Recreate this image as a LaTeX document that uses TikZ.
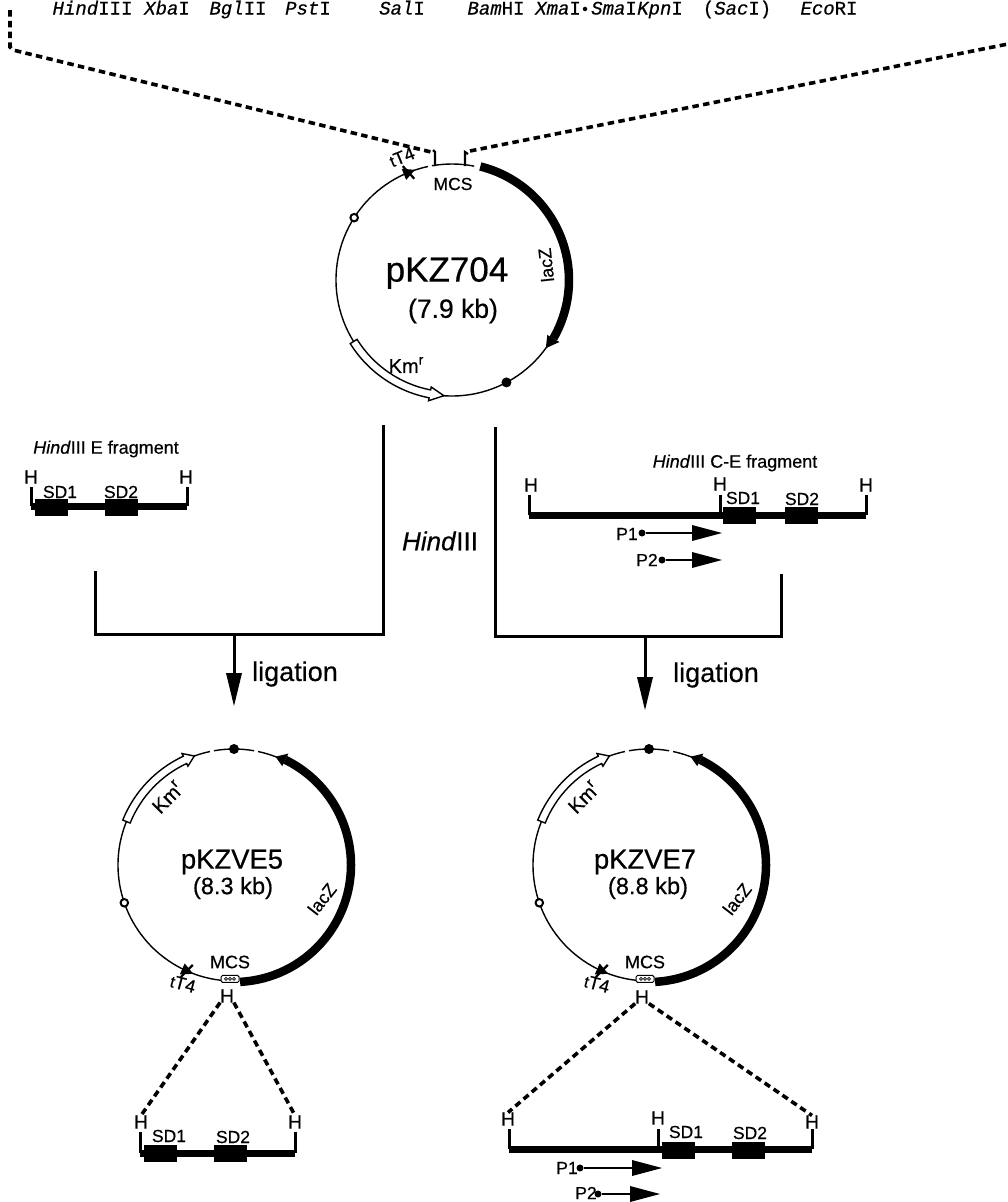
\documentclass[tikz,border=0pt]{standalone}
\usetikzlibrary{calc}
\usepackage{fontspec}
\setmainfont{Liberation Sans}[RawFeature={embolden=0.5}]
\newfontfamily\cour{Liberation Mono}[RawFeature={embolden=0.5}]
\newcommand\fs[1]{\fontsize{#1}{#1}\selectfont}
\newcommand\kmtext{Km\raisebox{0.42em}{\fs{14}r}}
\newcommand\ringarc[2]{\draw[ring] (#1:116) arc[start angle=#1,end angle=#2,radius=116];}
% lacZ: start, body end, tip
\newcommand\lacarc[3]{\draw[lacbody] (#1:117) arc[start angle=#1,end angle=#2,radius=117];
  \fill (#2:124) -- (#3:116) -- (#2:110) -- cycle;}
% Km: start, shoulder, tip
\newcommand\kmarc[3]{\draw[kmbody] (#1:120) arc[start angle=#1,end angle=#2,radius=120] -- (#2:123) -- (#3:116) -- (#2:109) -- (#2:112) arc[start angle=#2,end angle=#1,radius=112] -- cycle;}
% terminator at angle, pointing sense (+/-1)
\newcommand\termin[2]{\begin{scope}[rotate=#1,shift={(116,0)}]
  \fill (-6,#2*5) -- (6,#2*5) -- (0,#2*-7) -- cycle;
  \draw[line width=2.2] (-8,#2*-3) -- (8,#2*3);
  \end{scope}}
\tikzset{
  ring/.style={line width=1.4},
  lacbody/.style={line width=8.5},
  kmbody/.style={line width=1.4,fill=white,line join=miter},
  openmark/.style={circle,draw,line width=2,fill=white,inner sep=0,minimum size=7.5},
  solidmark/.style={circle,fill=black,inner sep=0,minimum size=10},
  txt/.style={inner sep=0,outer sep=0,align=center},
  site/.style={inner sep=0,outer sep=0,anchor=base,font=\cour\fs{19}},
  lab/.style={txt,font=\fs{18}},
  sdlab/.style={txt,font=\fs{17.5}},
  hlab/.style={txt,font=\fs{19}},
  ligate/.style={txt,font=\fs{27}},
  bracket/.style={line width=3,line cap=butt,line join=miter},
  bigarrow/.style={line width=3},
  dna/.style={line width=7},
  tick/.style={line width=3},
  sdbox/.style={fill=black,inner sep=0,minimum width=33,minimum height=17},
  dashdna/.style={line width=3.6,dash pattern=on 6.5 off 4.3},
  pline/.style={line width=2.6},
  pdot/.style={circle,fill=black,inner sep=0,minimum size=7},
}
\begin{document}
\begin{tikzpicture}[x=1pt,y=1pt]
\useasboundingbox (0,0) rectangle (1008,-1202);
% ---- top sites
\foreach \n/\x/\t in {s1/92.5/\textit{Hind}III,s2/167/\textit{Xba}I,s3/238/\textit{Bgl}II,s4/308/\textit{Pst}I,s5/402/\textit{Sal}I,s6/496/\textit{Bam}HI,s7/558/\textit{Xma}I,s8/614/\textit{Sma}I,s9/660/\textit{Kpn}I,s10/737/(\textit{Sac}I),s11/829/\textit{Eco}RI}
  \node[site] (\n) at (\x,-14.5) {\t};
\node[circle,fill=black,inner sep=0,minimum size=4.5] (sdot) at (585,-9) {};
% ---- dashed insert lines
\coordinate (tl) at (10,-10);
\coordinate (tlc) at (10,-47);
\coordinate (tlend) at (431,-152);
\coordinate (trend) at (470,-151);
\coordinate (tr) at (1008,-44);
\coordinate (mcsL) at (435,-166);
\coordinate (mcsLt) at (435,-152);
\coordinate (mcsR) at (465,-166);
\coordinate (mcsRt) at (465,-152);
\draw[dashdna] (tl) -- (tlc) -- ++(3,-3) -- (tlend);
\draw[dashdna] (trend) -- (tr);
\draw[line width=2.2] (mcsL) -- (mcsLt) -- ++(-2,2);
\draw[line width=2.2] (mcsR) -- (mcsRt) -- ++(3,-2);
% ---- pKZ704
\begin{scope}[shift={(452,-280)}]
  \ringarc{79}{100}\ringarc{102}{420}
  \lacarc{76}{-30}{-36}
  \kmarc{212}{259}{266}
  \termin{112}{1}
  \node[openmark] (o704) at (147.5:116) {};
  \node[solidmark] (f704) at (-62:116) {};
\end{scope}
\node[txt,font=\fs{35}] (n704) at (447,-273) {pKZ704};
\node[txt,font=\fs{26.5}] (k704) at (453,-311) {(7.9 kb)};
\node[lab,font=\fs{17.5}] (mcs704) at (453,-184) {MCS};
\node[lab,rotate=96] (lac704) at (546,-265) {lacZ};
\node[txt,font=\fs{20}] (km704) at (406,-365) {\kmtext};
\node[lab,rotate=22] (t704) at (402,-157) {{\fs{16}t}T4};
% ---- left fragment
\node[lab] (eLab) at (106,-449) {\textit{Hind}III E fragment};
\coordinate (e1) at (31,-506); \coordinate (e1t) at (31,-487);
\coordinate (e2) at (187,-506); \coordinate (e2t) at (187,-487);
\draw[dna,line cap=square] (e1) -- (e2);
\draw[tick] (e1) -- (e1t); \draw[tick] (e2) -- (e2t);
\node[sdbox] (e3) at (51.5,-507.5) {};
\node[sdbox] (e4) at (121.5,-507.5) {};
\node[hlab] (e5) at (31,-477) {H};
\node[hlab] (e6) at (186,-477) {H};
\node[sdlab] (e7) at (60,-492) {SD1};
\node[sdlab] (e8) at (121,-492) {SD2};
% ---- right fragment
\node[lab] (ceLab) at (735,-463) {\textit{Hind}III C-E fragment};
\coordinate (c1) at (529,-515); \coordinate (c1t) at (529,-495);
\coordinate (c2) at (720,-515); \coordinate (c2t) at (720,-495);
\coordinate (c3) at (866,-515); \coordinate (c3t) at (866,-495);
\draw[dna,line cap=square] (c1) -- (c3);
\draw[tick] (c1) -- (c1t); \draw[tick] (c2) -- (c2t); \draw[tick] (c3) -- (c3t);
\node[sdbox] (c4) at (739,-515.5) {};
\node[sdbox] (c5) at (801,-515.5) {};
\node[hlab] (c6) at (531,-485) {H};
\node[hlab] (c7) at (720,-484) {H};
\node[hlab] (c8) at (866,-485) {H};
\node[sdlab] (c9) at (743,-498) {SD1};
\node[sdlab] (c10) at (802,-499) {SD2};
\node[sdlab] (p1l) at (627,-534) {P1};
\node[pdot] (p1d) at (642,-533) {};
\coordinate (p1a) at (692,-533); \coordinate (p1t) at (722,-533);
\draw[pline] (p1d) -- (p1a);
\fill (p1t) -- ($(p1a)+(0,8)$) -- ($(p1a)+(0,-8)$) -- cycle;
\node[sdlab] (p2l) at (647,-560) {P2};
\node[pdot] (p2d) at (662,-560) {};
\coordinate (p2a) at (692,-560); \coordinate (p2t) at (722,-560);
\draw[pline] (p2d) -- (p2a);
\fill (p2t) -- ($(p2a)+(0,8)$) -- ($(p2a)+(0,-8)$) -- cycle;
\node[txt,font=\fs{26}] (hind) at (440,-541) {\textit{Hind}III};
% ---- brackets
\coordinate (bl1) at (383,-425); \coordinate (bl2) at (383,-634); \coordinate (bl3) at (95,-634); \coordinate (bl4) at (95,-571);
\draw[bracket] (bl1) -- (bl2) -- (bl3) -- (bl4);
\coordinate (br1) at (495,-427); \coordinate (br2) at (495,-636); \coordinate (br3) at (781,-636); \coordinate (br4) at (781,-574);
\draw[bracket] (br1) -- (br2) -- (br3) -- (br4);
\coordinate (al) at (234,-634); \coordinate (ala) at (234,-673); \coordinate (alt) at (234,-706);
\draw[bigarrow] (al) -- (ala);
\fill (alt) -- ($(ala)+(8,0)$) -- ($(ala)+(-8,0)$) -- cycle;
\coordinate (ar) at (645,-636); \coordinate (ara) at (645,-677); \coordinate (art) at (645,-710);
\draw[bigarrow] (ar) -- (ara);
\fill (art) -- ($(ara)+(8,0)$) -- ($(ara)+(-8,0)$) -- cycle;
\node[ligate] (lg1) at (295,-674) {ligation};
\node[ligate] (lg2) at (716,-675) {ligation};
% ---- pKZVE5 / pKZVE7
\foreach \cx in {234,649} {
\begin{scope}[shift={(\cx,-865)}]
  \ringarc{-87}{58}\ringarc{66}{78}\ringarc{80}{100}\ringarc{102}{270}
  \lacarc{-87}{64}{69}
  \kmarc{158}{115}{110}
  \termin{246}{-1}
  \node[openmark] at (199:116) {};
  \node[solidmark] at (90:116) {};
  \node[draw,fill=white,line width=1,rounded corners=1.5,minimum width=18,minimum height=7,inner sep=0] at (-92:114) {};
  \foreach \d in {-4,0,4} \draw[line width=0.7] (-92:114) ++(\d,0) circle (1.5);
\end{scope}}
\node[txt,font=\fs{27.4}] (n5) at (232,-862) {pKZVE5};
\node[txt,font=\fs{23.6}] (k5) at (233,-888) {(8.3 kb)};
\node[lab] (mcs5) at (230,-962) {MCS};
\node[lab,rotate=52] (lac5) at (322,-899) {lacZ};
\node[txt,font=\fs{20},rotate=45] (km5) at (167,-797) {\kmtext};
\node[lab,rotate=-15] (t5) at (183,-984) {{\fs{16}t}T4};
\node[hlab] (h5) at (227,-996) {H};
\node[txt,font=\fs{27.4}] (n7) at (645,-862) {pKZVE7};
\node[txt,font=\fs{23.6}] (k7) at (648,-888) {(8.8 kb)};
\node[lab] (mcs7) at (645,-962) {MCS};
\node[lab,rotate=52] (lac7) at (737,-899) {lacZ};
\node[txt,font=\fs{20},rotate=45] (km7) at (583,-797) {\kmtext};
\node[lab,rotate=-15] (t7) at (597,-984) {{\fs{16}t}T4};
\node[hlab] (h7) at (642,-997) {H};
% ---- bottom-left fragment
\coordinate (f1) at (140,-1153); \coordinate (f1t) at (140,-1132);
\coordinate (f2) at (295,-1153); \coordinate (f2t) at (295,-1132);
\draw[dna,line cap=square] (f1) -- (f2);
\draw[tick] (f1) -- (f1t); \draw[tick] (f2) -- (f2t);
\node[sdbox] (f3) at (160.5,-1153) {};
\node[sdbox] (f4) at (230.5,-1153) {};
\node[hlab] (f5) at (141,-1122) {H};
\node[hlab] (f6) at (295,-1122) {H};
\node[sdlab] (f7) at (169,-1136) {SD1};
\node[sdlab] (f8) at (233,-1137) {SD2};
\draw[dashdna] (h5.south west) -- (f5.north);
\draw[dashdna] (h5.south east) -- (f6.north);
% ---- bottom-right fragment
\coordinate (g1) at (509,-1149); \coordinate (g1t) at (509,-1129);
\coordinate (g2) at (658,-1149); \coordinate (g2t) at (658,-1129);
\coordinate (g3) at (812,-1149); \coordinate (g3t) at (812,-1129);
\draw[dna,line cap=square] (g1) -- (g3);
\draw[tick] (g1) -- (g1t); \draw[tick] (g2) -- (g2t); \draw[tick] (g3) -- (g3t);
\node[sdbox] (g4) at (678.5,-1150) {};
\node[sdbox] (g5) at (748,-1150) {};
\node[hlab] (g6) at (508,-1119) {H};
\node[hlab] (g7) at (658,-1118) {H};
\node[hlab] (g8) at (812,-1122) {H};
\node[sdlab] (g9) at (686,-1132) {SD1};
\node[sdlab] (g10) at (750,-1133) {SD2};
\draw[dashdna] (h7.south west) -- (g6.north);
\draw[dashdna] (h7.south east) -- (g8.north);
\node[sdlab] (q1l) at (567,-1168) {P1};
\node[pdot] (q1d) at (580,-1168) {};
\coordinate (q1a) at (632,-1168); \coordinate (q1t) at (662,-1168);
\draw[pline] (q1d) -- (q1a);
\fill (q1t) -- ($(q1a)+(0,8)$) -- ($(q1a)+(0,-8)$) -- cycle;
\node[sdlab] (q2l) at (586,-1193) {P2};
\node[pdot] (q2d) at (598,-1194) {};
\coordinate (q2a) at (630,-1194); \coordinate (q2t) at (660,-1194);
\draw[pline] (q2d) -- (q2a);
\fill (q2t) -- ($(q2a)+(0,8)$) -- ($(q2a)+(0,-8)$) -- cycle;
\end{tikzpicture}
\end{document}
